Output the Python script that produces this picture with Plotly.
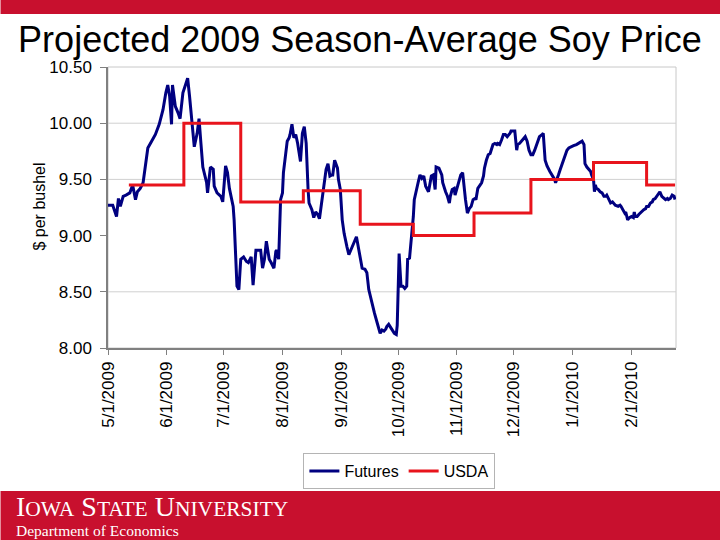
import plotly.graph_objects as go

# ---------------- data ----------------
futures_dates = [
    "2009-05-01", "2009-05-03 12:00", "2009-05-05 12:00", "2009-05-06 12:00", "2009-05-07 12:00",
    "2009-05-09", "2009-05-10 12:00", "2009-05-12 12:00", "2009-05-14", "2009-05-15 12:00",
    "2009-05-16 12:00", "2009-05-18", "2009-05-19 12:00", "2009-05-20 12:00", "2009-05-22",
    "2009-05-24", "2009-05-26", "2009-05-28", "2009-05-30", "2009-05-31 12:00",
    "2009-06-01 12:00", "2009-06-02 12:00", "2009-06-03 12:00", "2009-06-04", "2009-06-05 12:00",
    "2009-06-07", "2009-06-08", "2009-06-09 12:00", "2009-06-11", "2009-06-12",
    "2009-06-13", "2009-06-14", "2009-06-15 12:00", "2009-06-17", "2009-06-18",
    "2009-06-19", "2009-06-20", "2009-06-22", "2009-06-22 12:00", "2009-06-24",
    "2009-06-25 12:00", "2009-06-26", "2009-06-27 12:00", "2009-06-29 12:00", "2009-06-30 12:00",
    "2009-07-02", "2009-07-03", "2009-07-04", "2009-07-06", "2009-07-06 12:00",
    "2009-07-07 12:00", "2009-07-08", "2009-07-09", "2009-07-10", "2009-07-11 12:00",
    "2009-07-13", "2009-07-14", "2009-07-15 12:00", "2009-07-16 12:00", "2009-07-18",
    "2009-07-19", "2009-07-20 12:00", "2009-07-21 12:00", "2009-07-22 12:00", "2009-07-23 12:00",
    "2009-07-25", "2009-07-26", "2009-07-27 12:00", "2009-07-28 12:00", "2009-07-29",
    "2009-07-30", "2009-07-31", "2009-08-01", "2009-08-01 12:00", "2009-08-02 12:00",
    "2009-08-03 12:00", "2009-08-04 12:00", "2009-08-05", "2009-08-06", "2009-08-07",
    "2009-08-08", "2009-08-09", "2009-08-10 12:00", "2009-08-11 12:00", "2009-08-12 12:00",
    "2009-08-13 12:00", "2009-08-14 12:00", "2009-08-15", "2009-08-16 12:00", "2009-08-17 12:00",
    "2009-08-18 12:00", "2009-08-19 12:00", "2009-08-20 12:00", "2009-08-21 12:00", "2009-08-23",
    "2009-08-24", "2009-08-25", "2009-08-26", "2009-08-27", "2009-08-27 12:00",
    "2009-08-28 12:00", "2009-08-30", "2009-08-30 12:00", "2009-08-31 12:00", "2009-09-01 12:00",
    "2009-09-02 12:00", "2009-09-04", "2009-09-05", "2009-09-06", "2009-09-07 12:00",
    "2009-09-08", "2009-09-09", "2009-09-10", "2009-09-11", "2009-09-12",
    "2009-09-13 12:00", "2009-09-14 12:00", "2009-09-15 12:00", "2009-09-16 12:00", "2009-09-17 12:00",
    "2009-09-18 12:00", "2009-09-20", "2009-09-21", "2009-09-21 12:00", "2009-09-22 12:00",
    "2009-09-23 12:00", "2009-09-24 12:00", "2009-09-25", "2009-09-26", "2009-09-27",
    "2009-09-28", "2009-09-29", "2009-09-30", "2009-09-30 12:00", "2009-10-01 12:00",
    "2009-10-02", "2009-10-02 12:00", "2009-10-03 12:00", "2009-10-04 12:00", "2009-10-05 12:00",
    "2009-10-06", "2009-10-07", "2009-10-08", "2009-10-09", "2009-10-09 12:00",
    "2009-10-10 12:00", "2009-10-11 12:00", "2009-10-12 12:00", "2009-10-13 12:00", "2009-10-14 12:00",
    "2009-10-15 12:00", "2009-10-17", "2009-10-17 12:00", "2009-10-18 12:00", "2009-10-19 12:00",
    "2009-10-20 12:00", "2009-10-21", "2009-10-22 12:00", "2009-10-24", "2009-10-24 12:00",
    "2009-10-26", "2009-10-27", "2009-10-28", "2009-10-28 12:00", "2009-10-29 12:00",
    "2009-10-30 12:00", "2009-10-31", "2009-11-01", "2009-11-02", "2009-11-03",
    "2009-11-04", "2009-11-04 12:00", "2009-11-05 12:00", "2009-11-06 12:00", "2009-11-07 12:00",
    "2009-11-08 12:00", "2009-11-09 12:00", "2009-11-10 12:00", "2009-11-11", "2009-11-12",
    "2009-11-13", "2009-11-14", "2009-11-15", "2009-11-15 12:00", "2009-11-16 12:00",
    "2009-11-17 12:00", "2009-11-18 12:00", "2009-11-19", "2009-11-20", "2009-11-21",
    "2009-11-22", "2009-11-22 12:00", "2009-11-23 12:00", "2009-11-24 12:00", "2009-11-25 12:00",
    "2009-11-26 12:00", "2009-11-27 12:00", "2009-11-29", "2009-11-29 12:00", "2009-11-30 12:00",
    "2009-12-01 12:00", "2009-12-02 12:00", "2009-12-03", "2009-12-04", "2009-12-05",
    "2009-12-06", "2009-12-07", "2009-12-08", "2009-12-09", "2009-12-10",
    "2009-12-11", "2009-12-12", "2009-12-13", "2009-12-13 12:00", "2009-12-14 12:00",
    "2009-12-16", "2009-12-16 12:00", "2009-12-17 12:00", "2009-12-18 12:00", "2009-12-20",
    "2009-12-21", "2009-12-22 12:00", "2009-12-23", "2009-12-24", "2009-12-24 12:00",
    "2009-12-25 12:00", "2009-12-26 12:00", "2009-12-27 12:00", "2009-12-28", "2009-12-29",
    "2009-12-30", "2009-12-31", "2010-01-01 12:00", "2010-01-03", "2010-01-04",
    "2010-01-05", "2010-01-06", "2010-01-07", "2010-01-07 12:00", "2010-01-08 12:00",
    "2010-01-09 12:00", "2010-01-10 12:00", "2010-01-11", "2010-01-12", "2010-01-12 12:00",
    "2010-01-13", "2010-01-13 12:00", "2010-01-14 12:00", "2010-01-15 12:00", "2010-01-16 12:00",
    "2010-01-17 12:00", "2010-01-18 12:00", "2010-01-19", "2010-01-20", "2010-01-21",
    "2010-01-22", "2010-01-22 12:00", "2010-01-23 12:00", "2010-01-25", "2010-01-26",
    "2010-01-26 12:00", "2010-01-27 12:00", "2010-01-28 12:00", "2010-01-29", "2010-01-29 12:00",
    "2010-01-30", "2010-01-31", "2010-02-01", "2010-02-02", "2010-02-02 12:00",
    "2010-02-03", "2010-02-04", "2010-02-05", "2010-02-05 12:00", "2010-02-06 12:00",
    "2010-02-07 12:00", "2010-02-08 12:00", "2010-02-09", "2010-02-10", "2010-02-11",
    "2010-02-12", "2010-02-12 12:00", "2010-02-13 12:00", "2010-02-14 12:00", "2010-02-15 12:00",
    "2010-02-16", "2010-02-17", "2010-02-18", "2010-02-19", "2010-02-20",
    "2010-02-20 12:00", "2010-02-21 12:00", "2010-02-22 12:00", "2010-02-23 12:00", "2010-02-24",
]
futures_values = [
    9.27, 9.27, 9.17, 9.33, 9.26,
    9.35, 9.36, 9.38, 9.45, 9.32,
    9.39, 9.42, 9.47, 9.61, 9.78,
    9.84, 9.90, 9.99, 10.12, 10.27,
    10.34, 10.24, 9.99, 10.34, 10.15,
    10.09, 10.04, 10.27, 10.36, 10.40,
    10.24, 10.03, 9.79, 9.91, 10.04,
    9.82, 9.61, 9.47, 9.38, 9.61,
    9.59, 9.44, 9.38, 9.35, 9.30,
    9.62, 9.56, 9.42, 9.26, 9.14,
    8.81, 8.55, 8.52, 8.79, 8.81,
    8.77, 8.76, 8.81, 8.56, 8.87,
    8.87, 8.87, 8.71, 8.79, 8.95,
    8.79, 8.76, 8.71, 8.86, 8.87,
    8.79, 9.32, 9.38, 9.56, 9.70,
    9.84, 9.87, 9.90, 9.99, 9.87,
    9.90, 9.82, 9.66, 9.91, 9.97,
    9.82, 9.41, 9.29, 9.23, 9.16,
    9.21, 9.19, 9.15, 9.29, 9.47,
    9.59, 9.64, 9.53, 9.54, 9.54,
    9.67, 9.60, 9.50, 9.41, 9.14,
    9.02, 8.90, 8.83, 8.87, 8.92,
    8.95, 8.99, 8.90, 8.81, 8.71,
    8.70, 8.67, 8.52, 8.44, 8.39,
    8.31, 8.22, 8.16, 8.13, 8.16,
    8.15, 8.17, 8.19, 8.21, 8.18,
    8.15, 8.13, 8.12, 8.20, 8.84,
    8.67, 8.55, 8.55, 8.53, 8.55,
    8.79, 8.80, 8.96, 9.17, 9.32,
    9.41, 9.47, 9.54, 9.51, 9.53,
    9.44, 9.39, 9.45, 9.53, 9.54,
    9.41, 9.61, 9.60, 9.54, 9.47,
    9.39, 9.35, 9.29, 9.35, 9.41,
    9.42, 9.36, 9.42, 9.47, 9.54,
    9.56, 9.47, 9.32, 9.20, 9.24,
    9.26, 9.32, 9.33, 9.32, 9.42,
    9.45, 9.47, 9.53, 9.60, 9.67,
    9.72, 9.73, 9.76, 9.81, 9.82,
    9.81, 9.82, 9.81, 9.85, 9.90,
    9.90, 9.88, 9.91, 9.93, 9.93,
    9.93, 9.76, 9.81, 9.82, 9.84,
    9.85, 9.88, 9.84, 9.76, 9.72,
    9.72, 9.76, 9.81, 9.85, 9.88,
    9.90, 9.91, 9.67, 9.62, 9.57,
    9.54, 9.50, 9.47, 9.53, 9.54,
    9.59, 9.64, 9.70, 9.73, 9.76,
    9.78, 9.79, 9.80, 9.81, 9.82,
    9.83, 9.84, 9.81, 9.64, 9.61,
    9.59, 9.57, 9.54, 9.50, 9.39,
    9.45, 9.42, 9.41, 9.39, 9.38,
    9.35, 9.35, 9.36, 9.33, 9.29,
    9.30, 9.29, 9.27, 9.26, 9.27,
    9.26, 9.23, 9.20, 9.21, 9.16,
    9.14, 9.16, 9.17, 9.16, 9.21,
    9.17, 9.17, 9.19, 9.20, 9.21,
    9.23, 9.24, 9.26, 9.26, 9.29,
    9.30, 9.32, 9.33, 9.35, 9.38,
    9.39, 9.35, 9.33, 9.32, 9.33,
    9.32, 9.33, 9.36, 9.35, 9.32,
]

usda_dates = ["2009-05-12", "2009-06-10", "2009-07-10", "2009-08-12", "2009-09-11",
              "2009-10-09", "2009-11-10", "2009-12-10", "2010-01-12", "2010-02-09", "2010-02-24"]
usda_values = [9.45, 10.00, 9.30, 9.40, 9.10, 9.00, 9.20, 9.50, 9.65, 9.45, 9.45]

x_tick_dates = ["2009-05-01", "2009-06-01", "2009-07-01", "2009-08-01", "2009-09-01",
                "2009-10-01", "2009-11-01", "2009-12-01", "2010-01-01", "2010-02-01"]
x_tick_labels = ["5/1/2009", "6/1/2009", "7/1/2009", "8/1/2009", "9/1/2009",
                 "10/1/2009", "11/1/2009", "12/1/2009", "1/1/2010", "2/1/2010"]
y_tick_values = [8.0, 8.5, 9.0, 9.5, 10.0, 10.5]
y_tick_labels = ["8.00", "8.50", "9.00", "9.50", "10.00", "10.50"]
grid_levels = [8.5, 9.5, 10.0]

title_text = "Projected 2009 Season-Average Soy Price"
y_title = "$ per bushel"

# ---------------- figure ----------------
SANS = "Liberation Sans, Arial, sans-serif"
SERIF = "Liberation Serif, Times New Roman, serif"
ISU_RED = "#C8102E"

W, H = 720, 540
L, R, T, B = 107.5, 675.7, 67.0, 348.0


def px(xp):
    return (xp - L) / (R - L)


def py(yp):
    return (B - yp) / (B - T)


fig = go.Figure()
fig.add_trace(go.Scatter(x=futures_dates, y=futures_values, mode="lines", name="Futures",
                         line=dict(color="#000080", width=3)))
fig.add_trace(go.Scatter(x=usda_dates, y=usda_values, mode="lines", name="USDA",
                         line=dict(color="#E8141C", width=3, shape="hv")))

fig.update_layout(
    width=W, height=H, autosize=False,
    margin=dict(l=L, r=W - R, t=T, b=H - B, pad=0),
    paper_bgcolor="white", plot_bgcolor="white",
    font=dict(family=SANS, color="black"),
    title=dict(text=title_text, x=0.5, xanchor="center", y=1 - 39 / H, yanchor="middle",
               font=dict(size=36, family=SANS, color="black")),
    legend=dict(orientation="h", x=px(399), xanchor="center", y=py(453), yanchor="top",
                font=dict(size=16, family=SANS, color="black"),
                bordercolor="#B4B4B4", borderwidth=1, bgcolor="white",
                itemwidth=30, tracegroupgap=0),
    xaxis=dict(type="date", range=["2009-05-01", "2010-02-24 12:00"],
               tickmode="array", tickvals=x_tick_dates, ticktext=x_tick_labels,
               tickangle=-90, ticks="outside", ticklen=5, tickcolor="#808080",
               tickfont=dict(size=17, family=SANS, color="black"),
               showgrid=False, zeroline=False, showline=True, linecolor="#808080", linewidth=1.5),
    yaxis=dict(range=[8.0, 10.5], tickmode="array", tickvals=y_tick_values, ticktext=y_tick_labels,
               ticks="outside", ticklen=6, tickcolor="#808080", ticklabelstandoff=5,
               tickfont=dict(size=17, family=SANS, color="black"),
               showgrid=False, zeroline=False, showline=True, linecolor="#808080", linewidth=1.5),
)

# plot-area border (top & right) and selected gridlines
fig.add_shape(type="rect", xref="paper", yref="paper", x0=0, x1=1, y0=0, y1=1,
              line=dict(color="#C8C8C8", width=1), layer="below")
for g in grid_levels:
    fig.add_shape(type="line", xref="paper", yref="y", x0=0, x1=1, y0=g, y1=g,
                  line=dict(color="#D0D0D0", width=1), layer="below")

# y-axis title
fig.add_annotation(text=y_title, xref="paper", yref="paper", x=px(38), y=py(207),
                   textangle=-90, showarrow=False, xanchor="center", yanchor="middle",
                   font=dict(size=16, family=SANS, color="black"))

# header / footer bands
fig.add_shape(type="rect", xref="paper", yref="paper", x0=px(0), x1=px(W), y0=py(14), y1=py(0),
              line=dict(width=0), fillcolor=ISU_RED, layer="above")
fig.add_shape(type="rect", xref="paper", yref="paper", x0=px(0), x1=px(W), y0=py(H), y1=py(491),
              line=dict(width=0), fillcolor=ISU_RED, layer="above")

isu = ("I<span style='font-size:21.5px'>OWA</span> S<span style='font-size:21.5px'>TATE</span> "
       "U<span style='font-size:21.5px'>NIVERSITY</span>")
fig.add_annotation(text=isu, xref="paper", yref="paper", x=px(13), y=py(507),
                   showarrow=False, xanchor="left", yanchor="middle",
                   font=dict(size=28, family=SERIF, color="white"))
fig.add_annotation(text="Department of Economics", xref="paper", yref="paper", x=px(13), y=py(530),
                   showarrow=False, xanchor="left", yanchor="middle",
                   font=dict(size=15.5, family=SERIF, color="white"))

fig.write_html(
    "out.html",
    config={"displayModeBar": False},
    post_script="document.body.style.margin='0px';document.body.style.padding='0px';"
                "document.body.style.overflow='hidden';",
)
